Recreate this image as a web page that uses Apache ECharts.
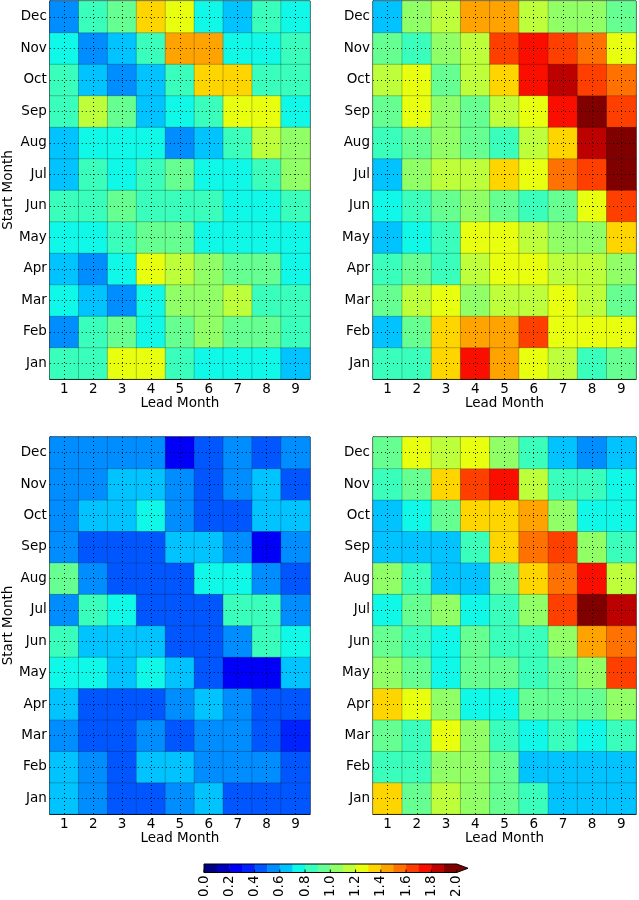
<!DOCTYPE html>
<html><head><meta charset="utf-8">
<script src="https://cdn.jsdelivr.net/npm/echarts@6/dist/echarts.min.js"></script>
<style>html,body{margin:0;padding:0;background:#fff}#c{width:639px;height:900px}</style>
</head><body><div id="c"></div>
<script>
// ---- categories ----
const leadMonths = ['1','2','3','4','5','6','7','8','9'];
const startMonths = ['Jan','Feb','Mar','Apr','May','Jun','Jul','Aug','Sep','Oct','Nov','Dec'];

// ---- colour levels (jet, 20 bins, extend max) ----
const levels = [0.0,0.1,0.2,0.3,0.4,0.5,0.6,0.7,0.8,0.9,1.0,1.1,1.2,1.3,1.4,1.5,1.6,1.7,1.8,1.9,2.0];
const levelColors = ['#000080','#0000bc','#0000f9','#0022ff','#0057ff','#008dff','#00c3ff','#0ff8e8','#3affbc','#66ff91',
                     '#91ff66','#bcff3a','#e8ff0f','#ffd500','#ffa300','#ff7100','#ff3f00','#fa0e00','#bd0000','#800000'];
const overColor = '#800000';
const cbTickValues = [0.0,0.2,0.4,0.6,0.8,1.0,1.2,1.4,1.6,1.8,2.0];

// ---- panel values: rows Jan..Dec, columns lead 1..9 ----
const panelTL = [
  [0.85,0.85,1.25,1.25,0.85,0.75,0.75,0.75,0.65],
  [0.55,0.85,0.95,0.75,0.95,1.05,0.95,0.95,0.85],
  [0.75,0.65,0.55,0.75,1.05,1.05,1.15,0.85,0.85],
  [0.65,0.55,0.75,1.25,1.15,1.05,0.95,0.95,0.75],
  [0.75,0.75,0.85,0.95,0.95,0.75,0.75,0.75,0.75],
  [0.85,0.85,0.95,0.85,0.85,0.85,0.75,0.75,0.85],
  [0.65,0.85,0.75,0.85,0.95,0.75,0.75,0.85,1.05],
  [0.65,0.75,0.75,0.75,0.55,0.65,0.85,1.15,1.05],
  [0.85,1.15,0.95,0.65,0.75,0.85,1.25,1.25,0.75],
  [0.85,0.65,0.55,0.65,0.85,1.35,1.35,0.85,0.85],
  [0.75,0.55,0.65,0.85,1.45,1.45,0.75,0.75,0.85],
  [0.55,0.85,0.95,1.35,1.25,0.75,0.65,0.85,0.75]
];
const panelTR = [
  [0.85,0.85,1.35,1.75,1.45,1.25,1.15,0.85,0.95],
  [0.65,0.95,1.35,1.45,1.45,1.65,1.25,1.25,1.25],
  [0.95,1.15,1.25,1.05,1.15,1.15,1.25,1.15,0.95],
  [0.85,0.95,0.85,1.15,1.25,1.25,1.15,1.15,1.05],
  [0.65,0.75,0.85,1.25,1.25,1.15,1.05,1.05,1.35],
  [0.75,0.85,0.95,1.05,0.95,0.85,0.95,1.25,1.65],
  [0.65,1.05,1.15,1.15,1.35,1.25,1.55,1.65,1.95],
  [0.85,0.95,1.05,0.95,0.85,1.15,1.35,1.85,1.95],
  [0.95,1.25,1.05,0.95,1.15,1.25,1.75,1.95,1.65],
  [1.15,1.25,0.95,1.15,1.35,1.75,1.85,1.65,1.55],
  [0.95,0.85,1.05,1.15,1.65,1.75,1.65,1.55,1.25],
  [0.65,1.05,1.15,1.45,1.45,1.15,1.05,1.05,0.95]
];
const panelBL = [
  [0.65,0.55,0.45,0.45,0.55,0.65,0.45,0.45,0.45],
  [0.65,0.55,0.45,0.65,0.65,0.55,0.55,0.55,0.45],
  [0.55,0.45,0.45,0.55,0.45,0.55,0.55,0.45,0.35],
  [0.65,0.45,0.45,0.45,0.55,0.65,0.55,0.45,0.45],
  [0.75,0.75,0.65,0.75,0.65,0.45,0.25,0.25,0.65],
  [0.85,0.65,0.65,0.65,0.45,0.45,0.55,0.85,0.75],
  [0.55,0.85,0.75,0.45,0.45,0.45,0.85,0.85,0.55],
  [0.95,0.55,0.45,0.45,0.45,0.75,0.75,0.55,0.45],
  [0.55,0.45,0.45,0.45,0.65,0.65,0.55,0.25,0.55],
  [0.55,0.65,0.65,0.75,0.55,0.45,0.45,0.65,0.65],
  [0.55,0.55,0.65,0.65,0.55,0.45,0.55,0.65,0.45],
  [0.55,0.55,0.55,0.55,0.25,0.45,0.55,0.45,0.55]
];
const panelBR = [
  [1.35,0.95,1.15,1.05,0.95,0.85,0.65,0.65,0.65],
  [0.85,0.85,1.05,1.05,0.95,0.65,0.65,0.65,0.65],
  [0.95,0.85,1.25,1.05,0.85,0.75,0.85,0.75,0.85],
  [1.35,1.25,1.05,0.75,0.75,0.95,0.95,0.95,1.05],
  [1.05,0.95,0.75,0.95,0.95,0.85,0.95,1.05,1.65],
  [0.95,0.85,0.75,0.95,0.85,0.85,1.05,1.45,1.55],
  [0.75,0.95,1.05,0.75,0.85,1.05,1.65,1.95,1.85],
  [1.05,0.85,0.65,0.65,0.95,1.35,1.55,1.75,1.15],
  [0.65,0.65,0.65,0.85,1.35,1.55,1.65,1.05,0.85],
  [0.65,0.75,0.95,1.35,1.35,1.45,1.05,0.75,0.75],
  [0.85,0.95,1.35,1.65,1.75,1.15,0.85,0.85,0.75],
  [0.95,1.25,1.15,1.25,1.05,0.85,0.65,0.55,0.65]
];
const panels = [panelTL, panelTR, panelBL, panelBR];

// ---- build option ----
const FONT = 'DejaVu Sans';
const FS = 13.5;
const gridBoxes = [
  {left:46, top:1, width:264, height:378},
  {left:373, top:1, width:263, height:378},
  {left:46, top:437, width:264, height:377},
  {left:373, top:437, width:263, height:377},
  {left:204, top:864, width:264, height:13}
];
const grid = gridBoxes.map((g,i)=>Object.assign({show:i<4, borderColor:'#000', borderWidth:1, backgroundColor:'transparent'}, g));

const xAxis = [], yAxis = [], series = [];
panels.forEach((p, i) => {
  xAxis.push({
    type:'category', gridIndex:i, data:leadMonths,
    axisLine:{show:true, lineStyle:{color:'#000', width:1}},
    axisTick:{show:true, inside:true, alignWithLabel:true, length:4, lineStyle:{color:'#000'}},
    axisLabel:{color:'#000', fontFamily:FONT, fontSize:FS, margin:3},
    splitLine:{show:false},
    name:'Lead Month', nameLocation:'middle', nameGap:17,
    nameTextStyle:{color:'#000', fontFamily:FONT, fontSize:FS}
  });
  const ya = {
    type:'category', gridIndex:i, data:startMonths,
    axisLine:{show:true, lineStyle:{color:'#000', width:1}},
    axisTick:{show:true, inside:true, alignWithLabel:true, length:4, lineStyle:{color:'#000'}},
    axisLabel:{color:'#000', fontFamily:FONT, fontSize:FS, margin:3},
    splitLine:{show:false}
  };
  if (i === 0 || i === 2) {
    Object.assign(ya, {name:'Start Month', nameLocation:'middle', nameGap:32, nameRotate:90,
      nameTextStyle:{color:'#000', fontFamily:FONT, fontSize:FS}});
  }
  yAxis.push(ya);
  const data = [];
  p.forEach((row, yi) => row.forEach((v, xi) => data.push([xi, yi, v])));
  series.push({
    type:'heatmap', xAxisIndex:i, yAxisIndex:i, data:data,
    itemStyle:{borderColor:'rgba(0,0,0,0.22)', borderWidth:1},
    emphasis:{disabled:true}, silent:true,
    markLine:{
      silent:true, symbol:['none','none'], z:5, animation:false,
      label:{show:false},
      lineStyle:{color:'#000', width:1, type:[1,3], opacity:0.85},
      data: leadMonths.map(c=>({xAxis:c})).concat(startMonths.map(c=>({yAxis:c})))
    }
  });
});

// colorbar axes
xAxis.push({
  type:'value', gridIndex:4, min:0, max:2.09, interval:0.2,
  axisLine:{show:false}, axisTick:{show:false}, splitLine:{show:false},
  axisLabel:{rotate:90, color:'#000', fontFamily:FONT, fontSize:FS, margin:3,
    formatter:(v)=> (v > 2.0001 ? '' : v.toFixed(1))}
});
yAxis.push({type:'value', gridIndex:4, min:0, max:1, show:false});

const cbData = levelColors.map((c, i) => [levels[i], levels[i+1], i]);
series.push({
  type:'custom', xAxisIndex:4, yAxisIndex:4, data:cbData, silent:true,
  renderItem:(params, api) => {
    const p0 = api.coord([api.value(0), 1]);
    const p1 = api.coord([api.value(1), 0]);
    return {type:'rect', shape:{x:p0[0], y:p0[1], width:p1[0]-p0[0]+0.5, height:p1[1]-p0[1]},
      style:{fill:levelColors[api.value(2)]}};
  }
});
// extend arrow + outline + ticks
series.push({
  type:'custom', xAxisIndex:4, yAxisIndex:4, data:[[levels[levels.length-1]]], silent:true, z:4,
  renderItem:(params, api) => {
    const cs = params.coordSys;
    const a = api.coord([api.value(0), 1]);
    const b = api.coord([api.value(0), 0]);
    const tipX = cs.x + cs.width, midY = cs.y + cs.height/2;
    const left = cs.x;
    const children = [
      {type:'polygon', shape:{points:[[a[0],a[1]],[tipX,midY],[b[0],b[1]]]}, style:{fill:overColor}},
      {type:'polygon', shape:{points:[[left,a[1]],[a[0],a[1]],[tipX,midY],[b[0],b[1]],[left,b[1]]]},
        style:{fill:'none', stroke:'#000', lineWidth:1}}
    ];
    cbTickValues.forEach(v => {
      const t = api.coord([v, 0]);
      children.push({type:'line', shape:{x1:t[0], y1:t[1], x2:t[0], y2:t[1]-3}, style:{stroke:'#000', lineWidth:1}});
    });
    return {type:'group', children};
  }
});

const pieces = levelColors.map((c, i) => ({gte:levels[i], lt:levels[i+1], color:c}));
pieces.push({gte:levels[levels.length-1], color:overColor});

const option = {
  animation:false,
  backgroundColor:'#fff',
  grid, xAxis, yAxis, series,
  visualMap:{type:'piecewise', show:false, seriesIndex:[0,1,2,3], dimension:2, pieces}
};
const chart = echarts.init(document.getElementById('c'), null, {renderer:'canvas'});
chart.setOption(option);
</script></body></html>
